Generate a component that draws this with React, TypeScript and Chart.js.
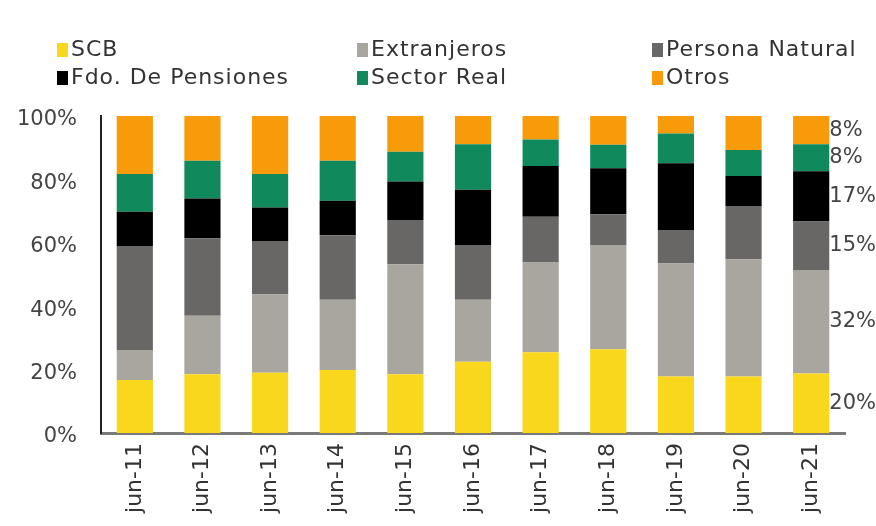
import React, { useEffect, useRef } from "react";
import { Chart, registerables } from "chart.js";

Chart.register(...registerables);

const categories = ["jun-11", "jun-12", "jun-13", "jun-14", "jun-15", "jun-16", "jun-17", "jun-18", "jun-19", "jun-20", "jun-21"];
const scb = [16.7, 18.5, 19.0, 19.9, 18.5, 22.5, 25.5, 26.4, 17.8, 17.8, 18.8];
const extranjeros = [9.5, 18.5, 24.8, 22.1, 34.7, 19.5, 28.3, 32.9, 35.7, 37.0, 32.6];
const personaNatural = [32.8, 24.4, 16.8, 20.4, 14.0, 17.3, 14.4, 9.7, 10.5, 16.8, 15.3];
const fdoPensiones = [10.8, 12.6, 10.5, 10.9, 12.1, 17.4, 16.0, 14.5, 21.1, 9.5, 15.9];
const sectorReal = [11.9, 11.9, 10.6, 12.6, 9.4, 14.4, 8.4, 7.4, 9.4, 8.2, 8.5];
const otros = [18.3, 14.1, 18.3, 14.1, 11.3, 8.9, 7.4, 9.1, 5.5, 10.7, 8.9];
// printed labels at the right of the last bar (bottom to top)
const lastLabels = [20, 32, 15, 17, 8, 8];
const yTicks = [0, 20, 40, 60, 80, 100];

const seriesNames = ["SCB", "Extranjeros", "Persona Natural", "Fdo. De Pensiones", "Sector Real", "Otros"];
const seriesValues = [scb, extranjeros, personaNatural, fdoPensiones, sectorReal, otros];
const seriesColors = ["#F9D71C", "#A9A59F", "#696766", "#000000", "#108A5C", "#F89B0B"];

const legendPlugin = {
  id: "gridLegend",
  afterDraw(chart: any) {
    const ctx = chart.ctx;
    const colX = [57, 357, 652];
    const rowY = [50, 78];
    ctx.save();
    ctx.font = "22px 'DejaVu Sans'";
    (ctx as any).letterSpacing = "1px";
    ctx.textBaseline = "middle";
    ctx.textAlign = "left";
    chart.data.datasets.forEach((ds: any, i: number) => {
      const col = i % 3;
      const row = Math.floor(i / 3);
      const x = colX[col];
      const y = rowY[row];
      ctx.fillStyle = ds.backgroundColor;
      ctx.fillRect(x, y - 7, 11, 14);
      ctx.fillStyle = "#333333";
      ctx.fillText(ds.label, x + 14, y);
    });
    ctx.restore();
  },
};

const endLabelPlugin = {
  id: "endLabels",
  afterDatasetsDraw(chart: any) {
    const ctx = chart.ctx;
    const idx = chart.data.labels.length - 1;
    ctx.save();
    ctx.font = "21px 'DejaVu Sans'";
    ctx.textBaseline = "middle";
    ctx.textAlign = "left";
    ctx.fillStyle = "#444444";
    chart.data.datasets.forEach((ds: any, i: number) => {
      const el = chart.getDatasetMeta(i).data[idx];
      if (!el) return;
      const { x, y, base, width } = el.getProps(["x", "y", "base", "width"], true);
      const mid = (y + base) / 2;
      ctx.fillText(lastLabels[i] + "%", x + width / 2, mid);
    });
    ctx.restore();
  },
};

export default function App() {
  const canvasRef = useRef<HTMLCanvasElement | null>(null);

  useEffect(() => {
    if (!canvasRef.current) return;
    const chart = new Chart(canvasRef.current, {
      type: "bar",
      data: {
        labels: categories,
        datasets: seriesNames.map((name, i) => ({
          label: name,
          data: seriesValues[i],
          backgroundColor: seriesColors[i],
          borderWidth: 0,
          categoryPercentage: 1,
          barPercentage: 0.535,
        })),
      },
      options: {
        animation: false,
        responsive: true,
        maintainAspectRatio: false,
        layout: { padding: { left: 8, right: 31, top: 116, bottom: 0 } },
        plugins: {
          legend: { display: false },
          tooltip: { enabled: false },
        },
        scales: {
          x: {
            stacked: true,
            grid: { display: false, drawTicks: false },
            border: { display: true, color: "#7a7a7a", width: 3 },
            ticks: {
              color: "#333333",
              font: { family: "'DejaVu Sans'", size: 22 },
              minRotation: 90,
              maxRotation: 90,
              padding: 10,
            },
            afterFit: (s: any) => {
              s.height = 93;
            },
          },
          y: {
            stacked: true,
            min: 0,
            max: 100,
            grid: { display: false, drawTicks: false },
            border: { display: true, color: "#222222", width: 2 },
            afterBuildTicks: (s: any) => {
              s.ticks = yTicks.map((v) => ({ value: v }));
            },
            ticks: {
              color: "#444444",
              font: { family: "'DejaVu Sans'", size: 21 },
              padding: 24,
              labelOffset: 4,
              callback: (v: any) => v + "%",
            },
            afterFit: (s: any) => {
              s.width = 93;
            },
          },
        },
      },
      plugins: [legendPlugin, endLabelPlugin],
    });
    return () => chart.destroy();
  }, []);

  return (
    <div style={{ position: "fixed", left: 0, top: 0, width: 876, height: 526, background: "#ffffff" }}>
      <canvas ref={canvasRef} />
    </div>
  );
}
